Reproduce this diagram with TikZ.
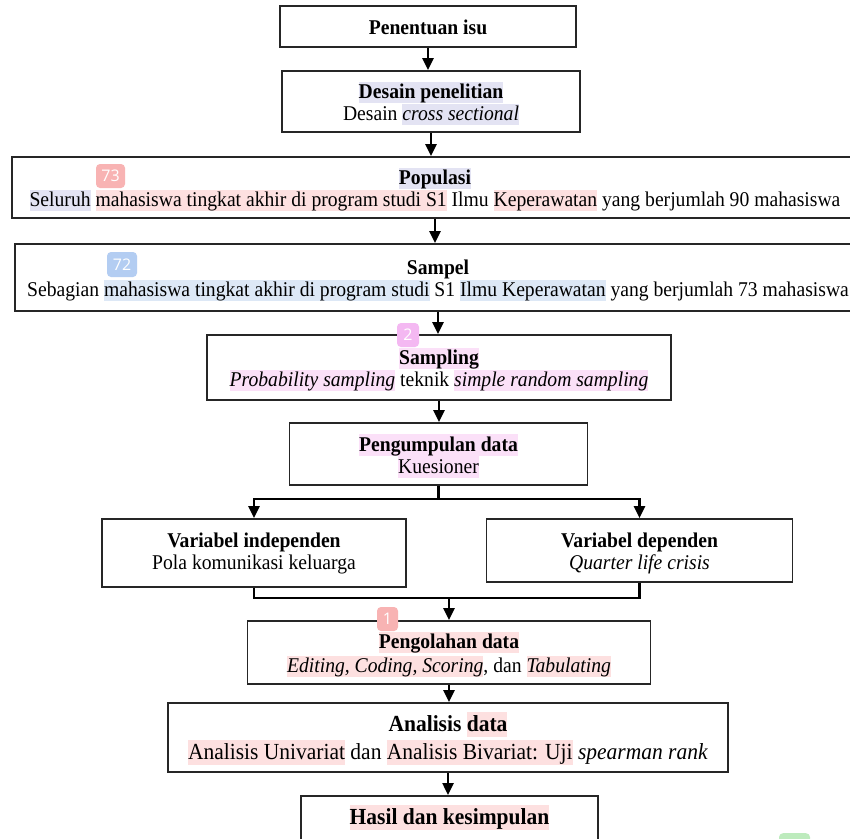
\documentclass[tikz,border=0pt]{standalone}
\usepackage{fontspec}
\setmainfont[FakeStretch=0.935]{Liberation Serif}
\newfontfamily\badgefont{Open Sans}
\usetikzlibrary{arrows.meta}
\definecolor{hlav}{HTML}{E3E3F3}
\definecolor{hred}{HTML}{FDE0E0}
\definecolor{hblu}{HTML}{DDE8F6}
\definecolor{hmag}{HTML}{FBE0F8}
\definecolor{bred}{HTML}{F8B3B3}
\definecolor{bblu}{HTML}{B3CDF2}
\definecolor{bmag}{HTML}{F4B8F2}
\definecolor{bgrn}{HTML}{BDEBBD}
\newcommand{\ST}{\rule[-4.5pt]{0pt}{17pt}}
\newcommand{\TP}{\rule{0pt}{21pt}}
\newcommand{\HL}[2]{{\setlength{\fboxsep}{0pt}\colorbox{#1}{\rule[-4.5pt]{0pt}{21.5pt}#2}}}
\newcommand{\HLb}[2]{{\setlength{\fboxsep}{0pt}\colorbox{#1}{\rule[-5.5pt]{0pt}{25pt}#2}}}
\begin{document}
\begin{tikzpicture}[x=1pt,y=-1pt,
  flowbox/.style={draw=black!85, line width=1.7pt, align=center, inner sep=0pt,
    font=\fontsize{21}{22}\selectfont},
  conn/.style={line width=2.4pt, draw=black},
  arr/.style={conn, -{Triangle[width=11pt,length=12pt]}},
  badge/.style={fill=#1, rounded corners=4pt, text=white, inner sep=0pt,
    font=\badgefont\fontsize{16}{16}\selectfont}]
\useasboundingbox (0,0) rectangle (850,838);
\clip (0,0) rectangle (850,838);
\fill[white] (0,0) rectangle (850,838);

\node[flowbox, minimum width=296pt, minimum height=41pt] (b1) at (428,26.5)
  {\TP\ST\textbf{Penentuan isu}};
\node[flowbox, minimum width=298pt, minimum height=61pt] (b2) at (431,101.5)
  {\TP\HL{hlav}{\textbf{Desain penelitian}}\\\ST Desain \HL{hlav}{\textit{cross sectional}}};
\node[flowbox, minimum width=846pt, minimum height=61pt] (b3) at (435,187.5)
  {\TP\HL{hlav}{\textbf{Populasi}}\\\HL{hlav}{Seluruh} \HL{hred}{mahasiswa tingkat akhir di program studi S1} Ilmu \HL{hred}{Keperawatan} yang berjumlah 90 mahasiswa};
\node[flowbox, minimum width=846pt, minimum height=67pt] (b4) at (438,277.5)
  {\TP\ST\textbf{Sampel}\\\ST Sebagian \HL{hblu}{mahasiswa tingkat akhir di program studi} S1 \HL{hblu}{Ilmu Keperawatan} yang berjumlah 73 mahasiswa};
\node[flowbox, minimum width=464pt, minimum height=65pt] (b5) at (439,367.5)
  {\TP\HL{hmag}{\textbf{Sampling}}\\\HL{hmag}{\textit{Probability sampling}} teknik \HL{hmag}{\textit{simple random sampling}}};
\node[flowbox, minimum width=298pt, minimum height=62pt] (b6) at (438.5,454)
  {\TP\HL{hmag}{\textbf{Pengumpulan data}}\\\HL{hmag}{Kuesioner}};
\node[flowbox, minimum width=304pt, minimum height=68pt] (b7) at (254,553)
  {\ST\textbf{Variabel independen}\\\ST Pola komunikasi keluarga};
\node[flowbox, minimum width=306pt, minimum height=63pt] (b8) at (639.5,550.5)
  {\TP\ST\textbf{Variabel dependen}\\\ST\textit{Quarter life crisis}};
\node[flowbox, minimum width=403pt, minimum height=63pt] (b9) at (449,652.5)
  {\TP\HL{hred}{\textbf{Pengolahan data}}\\[2pt]\HL{hred}{\textit{Editing, Coding, Scoring}}, dan \HL{hred}{\textit{Tabulating}}};
\node[flowbox, minimum width=560pt, minimum height=69pt, font=\fontsize{23}{24}\selectfont] (b10) at (448,737.5)
  {\TP\ST\textbf{Analisis} \HLb{hred}{\textbf{data}}\\[2pt]\HLb{hred}{Analisis Univariat} dan \HLb{hred}{Analisis Bivariat: Uji} \textit{spearman rank}};
\node[flowbox, minimum width=297pt, minimum height=80pt, anchor=north] (b11) at (449.5,795)
  {};
\node[font=\fontsize{23}{24}\selectfont, inner sep=0pt] (t11) at (449.5,817)
  {\HLb{hred}{\textbf{Hasil dan kesimpulan}}};

\draw[arr] (b1.south) -- (b1.south |- b2.north);
\draw[arr] (b2.south) -- (b2.south |- b3.north);
\draw[arr] (b3.south) -- (b3.south |- b4.north);
\draw[arr] (b4.south) -- (b4.south |- b5.north);
\draw[arr] (b5.south) -- (b5.south |- b6.north);

\coordinate (jt) at (438.5,499);
\coordinate (jb) at (449,598);
\draw[conn] (b6.south) -- (b6.south |- jt);
\draw[arr] (b6.south |- jt) -| (b7.north);
\draw[arr] (b6.south |- jt) -| (b8.north);
\draw[conn] (b7.south) |- (jb) -| (b8.south);
\draw[arr] (jb) -- (jb |- b9.north);
\draw[arr] (b9.south) -- (b9.south |- b10.north);
\draw[arr] (b10.south) -- (b10.south |- b11.north);

\node[badge=bred, minimum width=29pt, minimum height=24pt] (k73) at (110.5,176) {73};
\node[badge=bblu, minimum width=30pt, minimum height=25pt] (k72) at (122,264.5) {72};
\node[badge=bmag, minimum width=22pt, minimum height=24pt] (k2) at (408,335) {2};
\node[badge=bred, minimum width=21pt, minimum height=24pt] (k1) at (387.5,619) {1};
\node[badge=bgrn, minimum width=31pt, minimum height=24pt, anchor=north] (kg) at (794.5,833) {};
\end{tikzpicture}
\end{document}
